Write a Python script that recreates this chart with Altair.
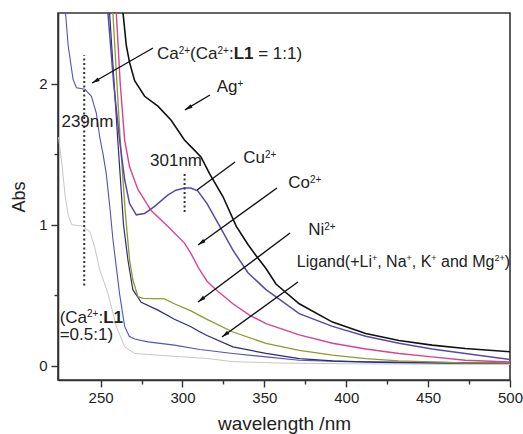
import math
import altair as alt
import pandas as pd

FONT = "Liberation Sans"
TXT = "#222222"

# ---------------- data (wavelength nm, absorbance) ----------------
ag_nm = [262.5, 263.7, 265.7, 267.7, 270.8, 276.9, 285.0, 293.1, 301.2, 305.5, 311.3, 316.6, 324.7, 332.8, 340.0,
         345.0, 351.0, 357.1, 371.3, 391.6, 411.9, 432.2, 452.4, 472.7, 500.0]
ag_abs = [2.75, 2.50, 2.27, 2.15, 2.02, 1.91, 1.84, 1.74, 1.60, 1.55, 1.48, 1.36, 1.20, 0.99, 0.86,
          0.78, 0.69, 0.58, 0.44, 0.31, 0.23, 0.18, 0.147, 0.123, 0.10]

cu_nm = [253.0, 254.5, 258.0, 261.6, 264.7, 267.7, 271.8, 276.9, 283.0, 291.0, 296.0, 301.2, 305.0, 309.3, 315.0,
         322.7, 330.8, 340.0, 351.0, 371.3, 391.6, 411.9, 432.2, 452.4, 472.7, 500.0]
cu_abs = [2.75, 2.50, 2.00, 1.60, 1.32, 1.15, 1.07, 1.08, 1.13, 1.21, 1.245, 1.26, 1.26, 1.24, 1.15,
          0.99, 0.82, 0.66, 0.54, 0.37, 0.28, 0.21, 0.16, 0.12, 0.088, 0.045]

co_nm = [258.5, 259.6, 262.0, 264.7, 267.7, 272.8, 280.9, 291.0, 301.2, 305.0, 310.0, 315.0, 320.0, 330.8, 340.9,
         351.0, 371.3, 391.6, 411.9, 432.2, 452.4, 472.7, 500.0]
co_abs = [2.75, 2.50, 2.00, 1.60, 1.41, 1.25, 1.10, 0.99, 0.87, 0.80, 0.69, 0.60, 0.545, 0.44, 0.36,
          0.30, 0.22, 0.16, 0.12, 0.088, 0.064, 0.04, 0.028]

ni_nm = [256.5, 257.5, 262.0, 265.0, 267.7, 269.7, 272.8, 276.0, 289.0, 295.0, 305.2, 310.0, 315.0, 330.8, 351.0,
         371.3, 391.6, 411.9, 432.0, 452.0, 472.0, 500.0]
ni_abs = [2.75, 2.50, 1.60, 1.10, 0.75, 0.61, 0.49, 0.478, 0.475, 0.44, 0.39, 0.36, 0.33, 0.24, 0.16,
          0.11, 0.076, 0.052, 0.035, 0.028, 0.022, 0.02]

lig_nm = [254.5, 255.5, 260.5, 264.0, 266.7, 269.7, 274.8, 285.0, 295.1, 305.2, 310.0, 315.0, 330.8, 351.0,
          371.3, 391.6, 420.0, 460.0, 500.0]
lig_abs = [2.75, 2.50, 1.60, 1.00, 0.75, 0.54, 0.45, 0.395, 0.33, 0.277, 0.245, 0.215, 0.135, 0.088,
           0.052, 0.035, 0.025, 0.02, 0.018]

ca1_nm = [227.5, 228.6, 230.2, 233.2, 235.3, 240.4, 244.4, 247.4, 249.5, 251.5, 253.5, 255.6, 257.6, 259.6,
          261.6, 264.7, 267.5, 270.8, 278.9, 295.1, 310.6, 330.8, 351.0, 371.3, 400.0, 450.0, 500.0]
ca1_abs = [2.75, 2.50, 2.27, 2.03, 1.97, 1.96, 1.91, 1.79, 1.62, 1.50, 1.36, 1.13, 0.89, 0.70,
           0.51, 0.28, 0.21, 0.19, 0.17, 0.147, 0.116, 0.088, 0.064, 0.04, 0.03, 0.025, 0.02]

ca05_nm = [224.3, 225.4, 226.2, 228.4, 230.4, 232.5, 239.0, 243.5, 246.4, 249.5, 254.6, 259.6, 264.7, 270.8,
           285.0, 315.4, 330.8, 360.0, 400.0, 450.0, 500.0]
ca05_abs = [1.62, 1.52, 1.45, 1.20, 1.06, 1.00, 0.99, 0.95, 0.84, 0.68, 0.51, 0.28, 0.135, 0.088,
            0.076, 0.052, 0.03, 0.02, 0.015, 0.012, 0.01]

series_names = ["Ca 0.5:1", "Ca 1:1", "Ligand", "Ni", "Co", "Cu", "Ag"]
series_nm = [ca05_nm, ca1_nm, lig_nm, ni_nm, co_nm, cu_nm, ag_nm]
series_abs = [ca05_abs, ca1_abs, lig_abs, ni_abs, co_abs, cu_abs, ag_abs]
series_colors = ["#c6c6c6", "#5353b8", "#2c2a7c", "#8e9a2c", "#d8448e", "#574aa6", "#111111"]
series_widths = [1.0, 1.6, 1.6, 1.6, 1.6, 1.6, 1.6]

# dotted markers (nm, abs from, abs to)
dot_nm = [240.0, 301.3]
dot_lo = [0.57, 1.09]
dot_hi = [2.20, 1.376]

# arrows: start (nm, abs) -> end (nm, abs), head flag
arr_nm = [282.0, 316.8, 332.1, 357.7, 365.7, 370.5]
arr_abs = [2.252, 1.919, 1.444, 1.260, 0.941, 0.594]
arr_nm2 = [244.8, 301.5, 308.9, 309.5, 309.5, 324.1]
arr_abs2 = [2.004, 1.813, 1.246, 0.856, 0.453, 0.205]
arr_head = [True, True, False, True, True, True]

# ---------------- geometry ----------------
W, H = 452, 367
XD = [224, 500]
YD = [-0.1, 2.5]
PXNM = W / (XD[1] - XD[0])
PXABS = H / (YD[1] - YD[0])

xs = alt.Scale(domain=XD, nice=False, zero=False)
ys = alt.Scale(domain=YD, nice=False, zero=False)

xaxis = alt.Axis(
    title="wavelength /nm",
    values=[250, 275, 300, 325, 350, 375, 400, 425, 450, 475, 500],
    labelExpr="datum.value % 50 === 0 ? datum.label : ''",
    tickSize={"condition": {"test": "datum.value % 50 === 0", "value": 7}, "value": 4},
    grid=False, labelFontSize=15, titleFontSize=19, labelPadding=3, titlePadding=9,
    labelFlush=False, format="d",
)
yaxis = alt.Axis(
    title="Abs",
    values=[0, 0.5, 1, 1.5, 2],
    labelExpr="datum.value % 1 === 0 ? format(datum.value, 'd') : ''",
    tickSize={"condition": {"test": "datum.value % 1 === 0", "value": 7}, "value": 4},
    grid=False, labelFontSize=15, titleFontSize=18, labelPadding=4, titlePadding=10,
    labelFlush=False,
)


def X(f):
    return alt.X(f, type="quantitative", scale=xs, axis=xaxis)


def Y(f):
    return alt.Y(f, type="quantitative", scale=ys, axis=yaxis)


# ---------------- series table ----------------
rows = []
for name, xx, yy in zip(series_names, series_nm, series_abs):
    for a, b in zip(xx, yy):
        rows.append({"series": name, "nm": a, "abs": b})
df = pd.DataFrame(rows)

lines = alt.Chart(df).mark_line(clip=True).encode(
    x=X("nm"), y=Y("abs"),
    color=alt.Color("series:N", scale=alt.Scale(domain=series_names, range=series_colors), legend=None),
    strokeWidth=alt.StrokeWidth("series:N", scale=alt.Scale(domain=series_names, range=series_widths), legend=None),
    detail="series:N",
)

dots = alt.Chart(pd.DataFrame({"nm": dot_nm, "abs": dot_lo, "abs2": dot_hi})).mark_rule(
    color="#333333", strokeWidth=2, strokeDash=[2, 2.5]
).encode(x=X("nm"), y=Y("abs"), y2="abs2")

arr_df = pd.DataFrame({"nm": arr_nm, "abs": arr_abs, "nm2": arr_nm2, "abs2": arr_abs2, "head": arr_head})
arrows = alt.Chart(arr_df).mark_rule(color="#111111", strokeWidth=1.4).encode(
    x=X("nm"), y=Y("abs"), x2="nm2", y2="abs2"
)

hd = arr_df[arr_df["head"]].copy()
angs = []
for _, r in hd.iterrows():
    dxp = (r["nm2"] - r["nm"]) * PXNM
    dyp = -(r["abs2"] - r["abs"]) * PXABS
    angs.append(math.degrees(math.atan2(dxp, -dyp)) % 360)
hd["ang"] = angs
hd["tipnm"] = hd["nm2"]
hd["tipabs"] = hd["abs2"]
heads = alt.Chart(hd).mark_point(
    shape="M0,0L0.6,2.3L-0.6,2.3Z", filled=True, color="#111111", size=45, opacity=1, strokeWidth=0
).encode(x=X("tipnm"), y=Y("tipabs"), angle=alt.Angle("ang:Q", scale=None))

# ---------------- annotation text ----------------
AW = {' ': .278, '(': .333, ')': .333, '+': .584, ',': .278, '.': .278, ':': .278, '=': .584,
      'A': .667, 'C': .722, 'K': .667, 'L': .556, 'M': .833, 'N': .722,
      'a': .556, 'd': .556, 'g': .556, 'i': .222, 'm': .833, 'n': .556, 'o': .556, 'u': .556}
BW = {'L': .611}


def tw(s, fs, bold):
    t = 0.0
    for ch in s:
        if ch.isdigit():
            t += .556
        elif bold and ch in BW:
            t += BW[ch]
        else:
            t += AW.get(ch, .556)
    return t * fs


annotations = [
    (284.45, 2.174, 17, [("Ca", "n"), ("2+", "s"), ("(Ca", "n"), ("2+", "s"), (":", "n"), ("L1", "b"),
                         (" = 1:1)", "n")]),
    (320.9, 1.940, 17, [("Ag", "n"), ("+", "s")]),
    (280.2, 1.416, 17, [("301nm", "n")]),
    (226.1, 1.692, 17, [("239nm", "n")]),
    (337.1, 1.437, 17, [("Cu", "n"), ("2+", "s")]),
    (364.6, 1.260, 17, [("Co", "n"), ("2+", "s")]),
    (376.8, 0.927, 17, [("Ni", "n"), ("2+", "s")]),
    (369.8, 0.701, 16, [("Ligand(+Li", "n"), ("+", "s"), (", Na", "n"), ("+", "s"), (", K", "n"),
                        ("+", "s"), (" and Mg", "n"), ("2+", "s"), (")", "n")]),
    (225.0, 0.304, 17, [("(Ca", "n"), ("2+", "s"), (":", "n"), ("L1", "b")]),
    (225.0, 0.183, 17, [("=0.5:1)", "n")]),
]

trows = []
for x0, y0, fs, runs in annotations:
    px = 0.0
    sfs = round(fs * 0.58)
    for text, st in runs:
        size = sfs if st == "s" else fs
        bold = st == "b"
        lead = len(text) - len(text.lstrip(" "))
        px += tw(" " * lead, size, bold)
        body = text.lstrip(" ")
        trows.append({
            "tnm": x0 + px / PXNM,
            "tabs": y0 + (5.5 / PXABS if st == "s" else 0.0),
            "txt": body, "size": size, "bold": bold,
        })
        px += tw(body, size, bold)
tdf = pd.DataFrame(trows)

text_n = alt.Chart(tdf[~tdf["bold"]]).mark_text(
    align="left", baseline="alphabetic", font=FONT, color=TXT
).encode(x=X("tnm"), y=Y("tabs"), text="txt:N", size=alt.Size("size:Q", scale=None))

text_b = alt.Chart(tdf[tdf["bold"]]).mark_text(
    align="left", baseline="alphabetic", font=FONT, color=TXT, fontWeight="bold"
).encode(x=X("tnm"), y=Y("tabs"), text="txt:N", size=alt.Size("size:Q", scale=None))

chart = alt.layer(lines, dots, arrows, heads, text_n, text_b).properties(
    width=W, height=H,
    autosize=alt.AutoSizeParams(type="none"),
    padding={"left": 58, "top": 13, "right": 13, "bottom": 54},
    background="white",
).configure_view(
    stroke="#333333", strokeWidth=1.6
).configure_axis(
    labelFont=FONT, titleFont=FONT, labelColor=TXT, titleColor=TXT,
    titleFontWeight="normal", domainColor="#333333", domainWidth=1.6,
    tickColor="#333333", tickWidth=1.4,
)

chart.save("out.html", embed_options={"renderer": "svg", "actions": False})
